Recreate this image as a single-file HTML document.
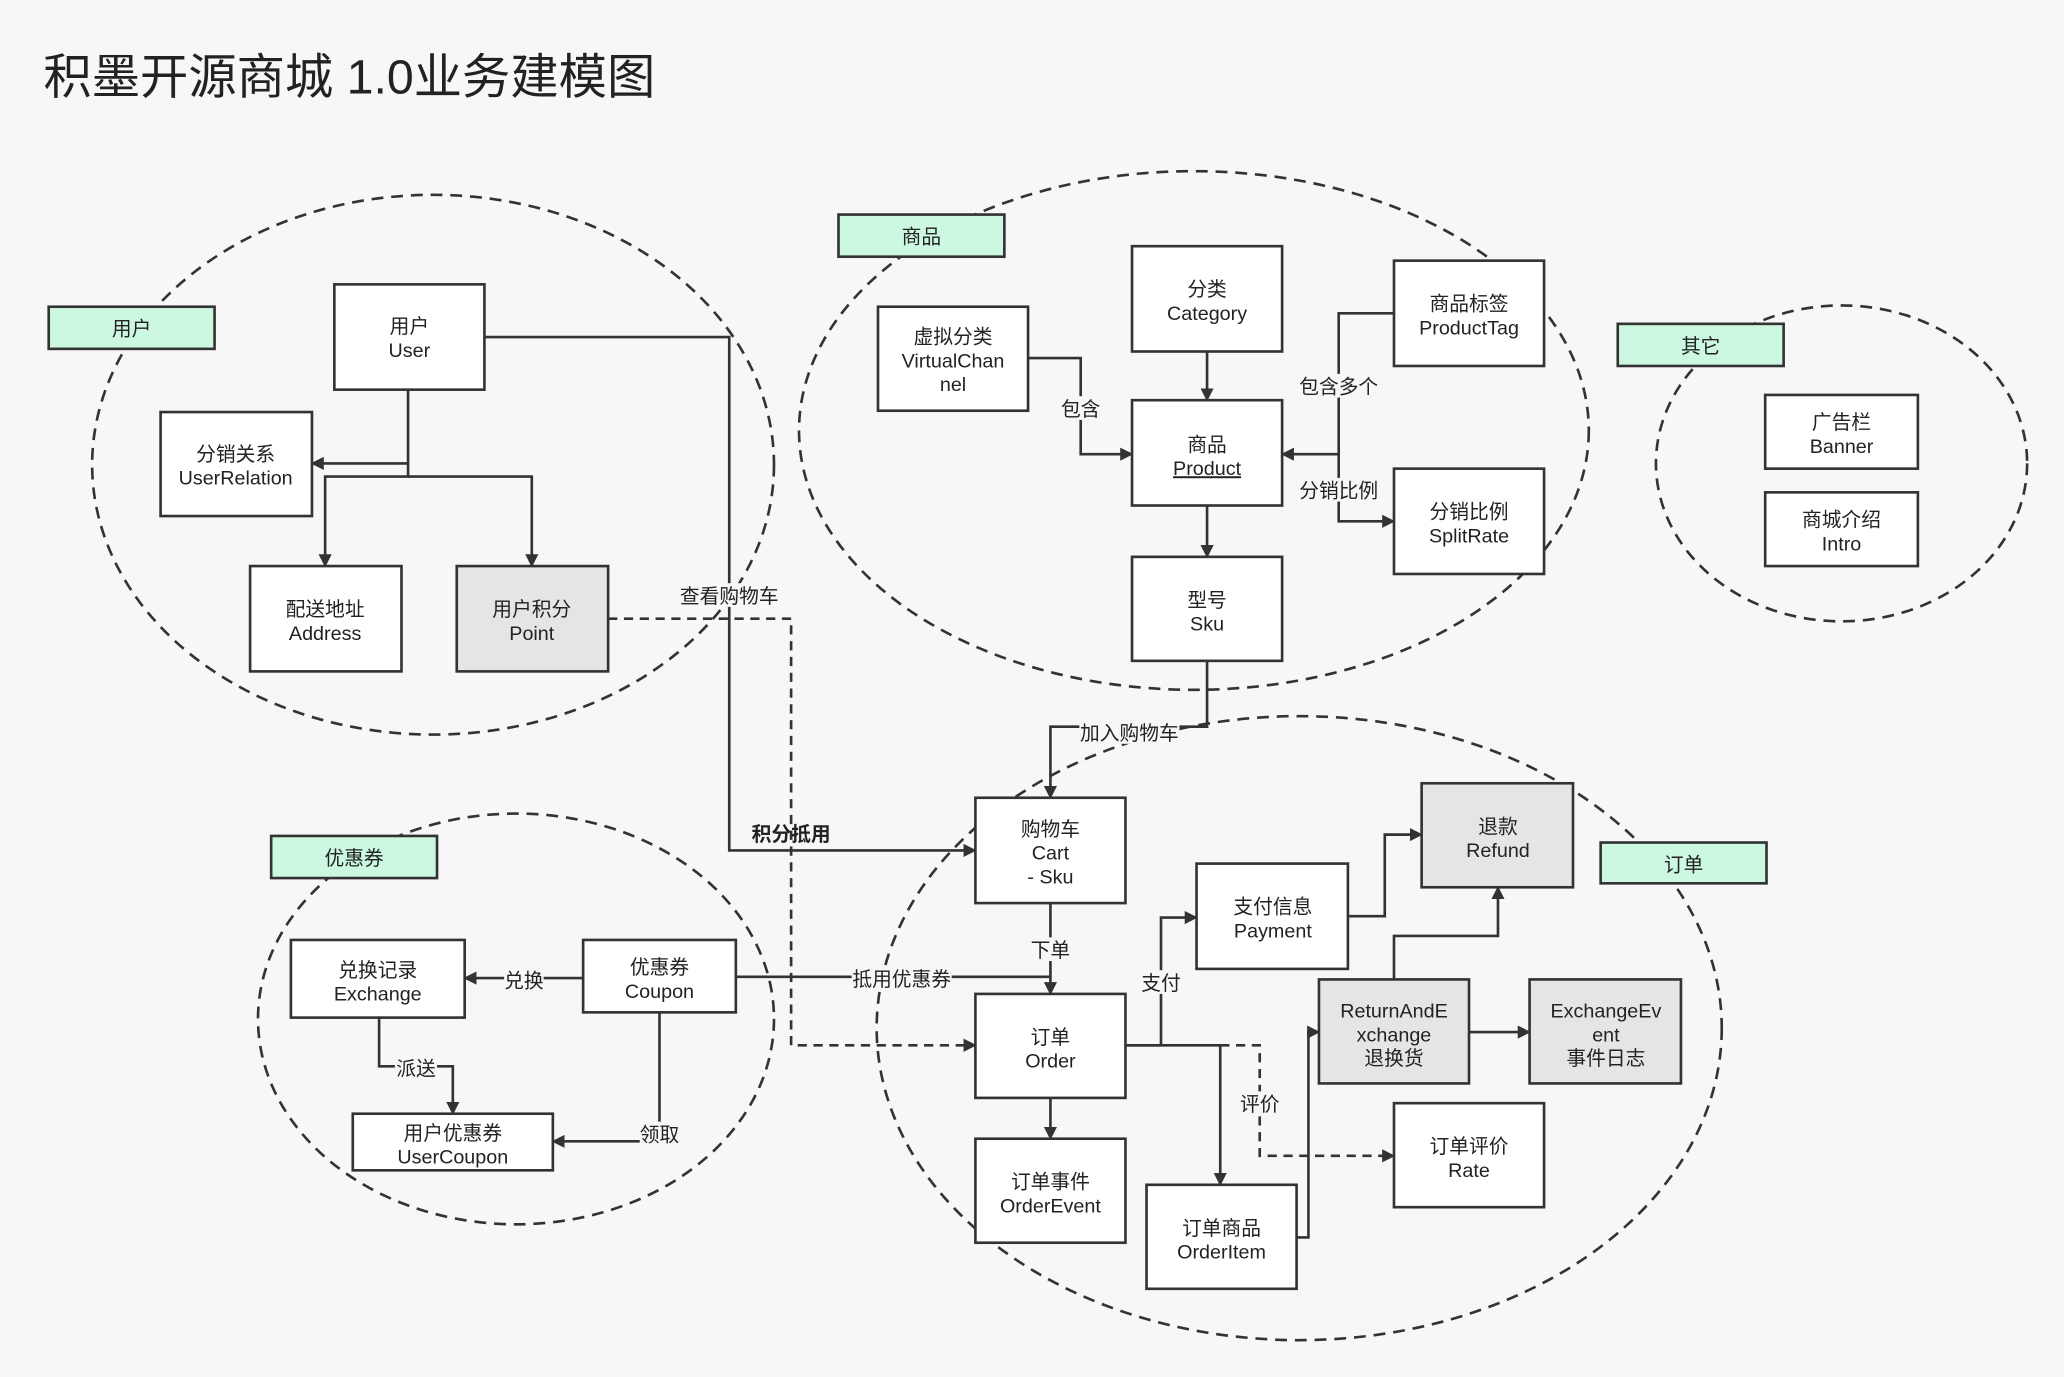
<!DOCTYPE html>
<html><head><meta charset="utf-8"><style>
html,body{margin:0;padding:0;background:#f7f7f7;}
svg{display:block;}
text{font-family:"Liberation Sans","Noto Sans CJK SC",sans-serif;fill:#222;}
</style></head><body>
<svg width="2064" height="1377" viewBox="0 0 1568 1046" preserveAspectRatio="none" xmlns="http://www.w3.org/2000/svg">
<defs>
<marker id="a" markerWidth="10" markerHeight="10" refX="9" refY="5" orient="auto" markerUnits="userSpaceOnUse"><path d="M0,0 L10,5 L0,10 Z" fill="#333"/></marker>
</defs>
<rect width="1568" height="1046" fill="#f7f7f7"/>
<text x="33" y="71" font-size="36.7" fill="#333">积墨开源商城 1.0业务建模图</text>

<g fill="none" stroke="#333" stroke-width="2" stroke-dasharray="9,6">
<ellipse cx="329" cy="353" rx="259" ry="205"/>
<ellipse cx="907" cy="327" rx="300" ry="197"/>
<ellipse cx="1399" cy="352" rx="141" ry="120"/>
<ellipse cx="392" cy="774" rx="196" ry="156"/>
<ellipse cx="987" cy="781" rx="321" ry="237"/>
</g>

<g stroke="#333" stroke-width="2" fill="#ccf8e1">
<rect x="37" y="233" width="126" height="32"/>
<rect x="637" y="163" width="126" height="32"/>
<rect x="1229" y="246" width="126" height="32"/>
<rect x="206" y="635" width="126" height="32"/>
<rect x="1216" y="640" width="126" height="31"/>
</g>
<g font-size="15" text-anchor="middle">
<text x="100" y="255">用户</text>
<text x="700" y="185">商品</text>
<text x="1292" y="268">其它</text>
<text x="269" y="657">优惠券</text>
<text x="1279" y="662">订单</text>
</g>

<g fill="none" stroke="#333" stroke-width="2">
<path d="M310,296 V352 H237" marker-end="url(#a)"/>
<path d="M310,352 V362 H247 V430" marker-end="url(#a)"/>
<path d="M310,362 H404 V430" marker-end="url(#a)"/>
<path d="M368,256 H554 V646 H741" marker-end="url(#a)"/>
<path d="M462,470 H601 V794 H741" stroke-dasharray="7,5" marker-end="url(#a)"/>
<path d="M781,272 H821 V345 H860" marker-end="url(#a)"/>
<path d="M917,267 V304" marker-end="url(#a)"/>
<path d="M1059,238 H1017 V345 H974" marker-end="url(#a)"/>
<path d="M1017,345 V396 H1059" marker-end="url(#a)"/>
<path d="M917,384 V423" marker-end="url(#a)"/>
<path d="M917,502 V552 H798 V606" marker-end="url(#a)"/>
<path d="M798,686 V755" marker-end="url(#a)"/>
<path d="M559,742 H798"/>
<path d="M443,743 H353" marker-end="url(#a)"/>
<path d="M288,773 V810 H344 V846" marker-end="url(#a)"/>
<path d="M501,769 V867 H420" marker-end="url(#a)"/>
<path d="M798,834 V865" marker-end="url(#a)"/>
<path d="M855,794 H882 V697 H909" marker-end="url(#a)"/>
<path d="M855,794 H927 V900" marker-end="url(#a)"/>
<path d="M927,794 H957 V878 H1059" stroke-dasharray="7,5" marker-end="url(#a)"/>
<path d="M985,940 H994 V784 H1002" marker-end="url(#a)"/>
<path d="M1024,696 H1052 V634 H1080" marker-end="url(#a)"/>
<path d="M1059,744 V711 H1138 V674" marker-end="url(#a)"/>
<path d="M1116,784 H1162" marker-end="url(#a)"/>
</g>

<g font-size="15" text-anchor="middle">
<rect x="516" y="443" width="76" height="18" fill="#f7f7f7"/>
<text x="554" y="458">查看购物车</text>
<text x="601" y="639" font-weight="bold">积分抵用</text>
<rect x="806" y="301" width="30" height="18" fill="#f7f7f7"/>
<text x="821" y="316">包含</text>
<rect x="985" y="284" width="64" height="18" fill="#f7f7f7"/>
<text x="1017" y="299">包含多个</text>
<rect x="985" y="363" width="64" height="18" fill="#f7f7f7"/>
<text x="1017" y="378">分销比例</text>
<rect x="820" y="547" width="76" height="18" fill="#f7f7f7"/>
<text x="858" y="562">加入购物车</text>
<rect x="782" y="712" width="32" height="18" fill="#f7f7f7"/>
<text x="798" y="727">下单</text>
<rect x="647" y="734" width="76" height="18" fill="#f7f7f7"/>
<text x="685" y="749">抵用优惠券</text>
<rect x="383" y="735" width="30" height="18" fill="#f7f7f7"/>
<text x="398" y="750">兑换</text>
<rect x="300" y="802" width="32" height="18" fill="#f7f7f7"/>
<text x="316" y="817">派送</text>
<rect x="486" y="852" width="32" height="18" fill="#f7f7f7"/>
<text x="501" y="867">领取</text>
<rect x="866" y="737" width="32" height="18" fill="#f7f7f7"/>
<text x="882" y="752">支付</text>
<rect x="941" y="829" width="32" height="18" fill="#f7f7f7"/>
<text x="957" y="844">评价</text>
</g>

<g stroke="#333" stroke-width="2">
<rect x="254" y="216" width="114" height="80" fill="#fff"/>
<rect x="122" y="313" width="115" height="79" fill="#fff"/>
<rect x="190" y="430" width="115" height="80" fill="#fff"/>
<rect x="347" y="430" width="115" height="80" fill="#e5e5e5"/>
<rect x="667" y="233" width="114" height="79" fill="#fff"/>
<rect x="860" y="187" width="114" height="80" fill="#fff"/>
<rect x="1059" y="198" width="114" height="80" fill="#fff"/>
<rect x="860" y="304" width="114" height="80" fill="#fff"/>
<rect x="1059" y="356" width="114" height="80" fill="#fff"/>
<rect x="860" y="423" width="114" height="79" fill="#fff"/>
<rect x="1341" y="300" width="116" height="56" fill="#fff"/>
<rect x="1341" y="374" width="116" height="56" fill="#fff"/>
<rect x="741" y="606" width="114" height="80" fill="#fff"/>
<rect x="1080" y="595" width="115" height="79" fill="#e5e5e5"/>
<rect x="909" y="656" width="115" height="80" fill="#fff"/>
<rect x="741" y="755" width="114" height="79" fill="#fff"/>
<rect x="1002" y="744" width="114" height="79" fill="#e5e5e5"/>
<rect x="1162" y="744" width="115" height="79" fill="#e5e5e5"/>
<rect x="1059" y="838" width="114" height="79" fill="#fff"/>
<rect x="741" y="865" width="114" height="79" fill="#fff"/>
<rect x="871" y="900" width="114" height="79" fill="#fff"/>
<rect x="221" y="714" width="132" height="59" fill="#fff"/>
<rect x="443" y="714" width="116" height="55" fill="#fff"/>
<rect x="268" y="846" width="152" height="43" fill="#fff"/>
</g>
<g font-size="15" text-anchor="middle">
<text x="311" y="253">用户</text><text x="311" y="271">User</text>
<text x="179" y="350">分销关系</text><text x="179" y="368">UserRelation</text>
<text x="247" y="468">配送地址</text><text x="247" y="486">Address</text>
<text x="404" y="468">用户积分</text><text x="404" y="486">Point</text>
<text x="724" y="261">虚拟分类</text><text x="724" y="279">VirtualChan</text><text x="724" y="297">nel</text>
<text x="917" y="225">分类</text><text x="917" y="243">Category</text>
<text x="1116" y="236">商品标签</text><text x="1116" y="254">ProductTag</text>
<text x="917" y="343">商品</text><text x="917" y="361" text-decoration="underline">Product</text>
<text x="1116" y="394">分销比例</text><text x="1116" y="412">SplitRate</text>
<text x="917" y="461">型号</text><text x="917" y="479">Sku</text>
<text x="1399" y="326">广告栏</text><text x="1399" y="344">Banner</text>
<text x="1399" y="400">商城介绍</text><text x="1399" y="418">Intro</text>
<text x="798" y="635">购物车</text><text x="798" y="653">Cart</text><text x="798" y="671">- Sku</text>
<text x="1138" y="633">退款</text><text x="1138" y="651">Refund</text>
<text x="967" y="694">支付信息</text><text x="967" y="712">Payment</text>
<text x="798" y="793">订单</text><text x="798" y="811">Order</text>
<text x="1059" y="773">ReturnAndE</text><text x="1059" y="791">xchange</text><text x="1059" y="809">退换货</text>
<text x="1220" y="773">ExchangeEv</text><text x="1220" y="791">ent</text><text x="1220" y="809">事件日志</text>
<text x="1116" y="876">订单评价</text><text x="1116" y="894">Rate</text>
<text x="798" y="903">订单事件</text><text x="798" y="921">OrderEvent</text>
<text x="928" y="938">订单商品</text><text x="928" y="956">OrderItem</text>
<text x="287" y="742">兑换记录</text><text x="287" y="760">Exchange</text>
<text x="501" y="740">优惠券</text><text x="501" y="758">Coupon</text>
<text x="344" y="866">用户优惠券</text><text x="344" y="884">UserCoupon</text>
</g>
</svg>
</body></html>
